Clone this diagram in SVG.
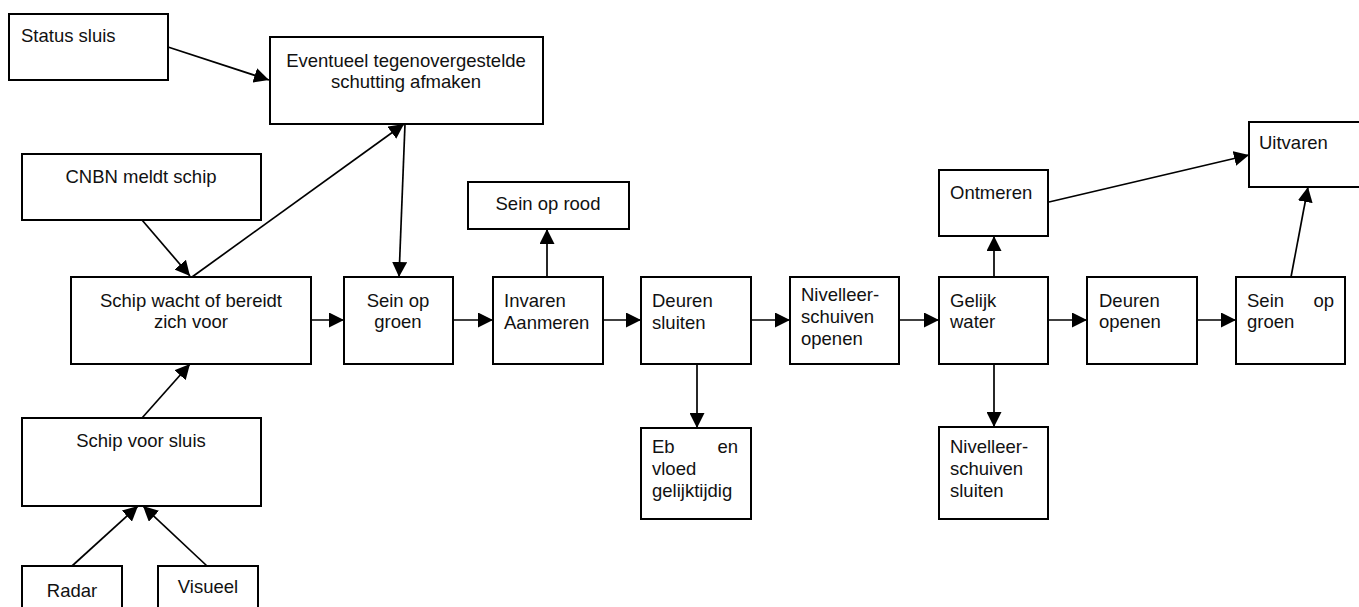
<svg xmlns="http://www.w3.org/2000/svg" width="1359" height="607" viewBox="0 0 1359 607">
<style>
.box{fill:#fff;stroke:#000;stroke-width:2}
.t{font-family:"Liberation Sans",Arial,sans-serif;font-size:18.5px;fill:#111}
.c{text-anchor:middle}
.e{text-anchor:end}
.ln{stroke:#000;stroke-width:1.7;fill:none;marker-end:url(#ah)}
</style>
<defs>
<marker id="ah" markerUnits="userSpaceOnUse" markerWidth="15" markerHeight="15" refX="15" refY="7.5" orient="auto">
<path d="M0,0 L15,7.5 L0,15 z" fill="#000"/>
</marker>
</defs>
<rect width="1359" height="607" fill="#fff"/>
<g id="connectors">
<line class="ln" x1="168" y1="47" x2="269" y2="80"/>
<line class="ln" x1="142" y1="220" x2="190" y2="276"/>
<line class="ln" x1="192" y1="277" x2="404" y2="124"/>
<line class="ln" x1="405" y1="124" x2="399" y2="277"/>
<line class="ln" x1="142" y1="418" x2="190" y2="364"/>
<line class="ln" x1="72" y1="566" x2="138" y2="506"/>
<line class="ln" x1="207" y1="566" x2="143" y2="506"/>
<line class="ln" x1="311" y1="320" x2="344" y2="320"/>
<line class="ln" x1="453" y1="320" x2="493" y2="320"/>
<line class="ln" x1="603" y1="320" x2="641" y2="320"/>
<line class="ln" x1="751" y1="320" x2="790" y2="320"/>
<line class="ln" x1="899" y1="320" x2="939" y2="320"/>
<line class="ln" x1="1048" y1="320" x2="1087" y2="320"/>
<line class="ln" x1="1197" y1="320" x2="1236" y2="320"/>
<line class="ln" x1="547" y1="277" x2="547" y2="229"/>
<line class="ln" x1="697" y1="364" x2="697" y2="428"/>
<line class="ln" x1="994" y1="277" x2="994" y2="236"/>
<line class="ln" x1="994" y1="364" x2="994" y2="427"/>
<line class="ln" x1="1049" y1="202" x2="1249" y2="155"/>
<line class="ln" x1="1291" y1="277" x2="1308" y2="187"/>
</g>
<g id="status"><rect class="box" x="9" y="14" width="159" height="66"/><text class="t" x="21" y="42">Status sluis</text></g>
<g id="eventueel"><rect class="box" x="270" y="37" width="273" height="87"/><text class="t c" x="406" y="67">Eventueel tegenovergestelde</text><text class="t c" x="406" y="88">schutting afmaken</text></g>
<g id="cnbn"><rect class="box" x="22" y="154" width="239" height="66"/><text class="t c" x="141" y="183">CNBN meldt schip</text></g>
<g id="wacht"><rect class="box" x="71" y="277" width="240" height="87"/><text class="t c" x="191" y="307">Schip wacht of bereidt</text><text class="t c" x="191" y="328">zich voor</text></g>
<g id="sein1"><rect class="box" x="344" y="277" width="109" height="87"/><text class="t c" x="398" y="307">Sein op</text><text class="t c" x="398" y="328">groen</text></g>
<g id="seinrood"><rect class="box" x="468" y="182" width="161" height="47"/><text class="t c" x="548" y="210">Sein op rood</text></g>
<g id="invaren"><rect class="box" x="493" y="277" width="110" height="87"/><text class="t" x="504" y="307">Invaren</text><text class="t" x="504" y="329">Aanmeren</text></g>
<g id="deurensluiten"><rect class="box" x="641" y="277" width="110" height="87"/><text class="t" x="652" y="307">Deuren</text><text class="t" x="652" y="329">sluiten</text></g>
<g id="nivopenen"><rect class="box" x="790" y="277" width="109" height="87"/><text class="t" x="801" y="301">Nivelleer-</text><text class="t" x="801" y="323">schuiven</text><text class="t" x="801" y="345">openen</text></g>
<g id="gelijk"><rect class="box" x="939" y="277" width="109" height="87"/><text class="t" x="950" y="307">Gelijk</text><text class="t" x="950" y="328">water</text></g>
<g id="deurenopenen"><rect class="box" x="1087" y="277" width="110" height="87"/><text class="t" x="1099" y="307">Deuren</text><text class="t" x="1099" y="328">openen</text></g>
<g id="sein2"><rect class="box" x="1236" y="277" width="109" height="87"/><text class="t" x="1247" y="307">Sein</text><text class="t e" x="1334" y="307">op</text><text class="t" x="1247" y="328">groen</text></g>
<g id="ontmeren"><rect class="box" x="939" y="170" width="109" height="66"/><text class="t" x="950" y="199">Ontmeren</text></g>
<g id="uitvaren"><rect class="box" x="1249" y="122" width="120" height="65"/><text class="t" x="1259" y="149">Uitvaren</text></g>
<g id="ebvloed"><rect class="box" x="641" y="428" width="110" height="91"/><text class="t" x="652" y="453">Eb</text><text class="t e" x="738" y="453">en</text><text class="t" x="652" y="475">vloed</text><text class="t" x="652" y="497">gelijktijdig</text></g>
<g id="nivsluiten"><rect class="box" x="939" y="427" width="109" height="92"/><text class="t" x="950" y="453">Nivelleer-</text><text class="t" x="950" y="475">schuiven</text><text class="t" x="950" y="497">sluiten</text></g>
<g id="voorsluis"><rect class="box" x="22" y="418" width="239" height="88"/><text class="t c" x="141" y="447">Schip voor sluis</text></g>
<g id="radar"><rect class="box" x="22" y="566" width="100" height="50"/><text class="t c" x="72" y="597">Radar</text></g>
<g id="visueel"><rect class="box" x="158" y="566" width="100" height="50"/><text class="t c" x="208" y="593">Visueel</text></g>
</svg>
